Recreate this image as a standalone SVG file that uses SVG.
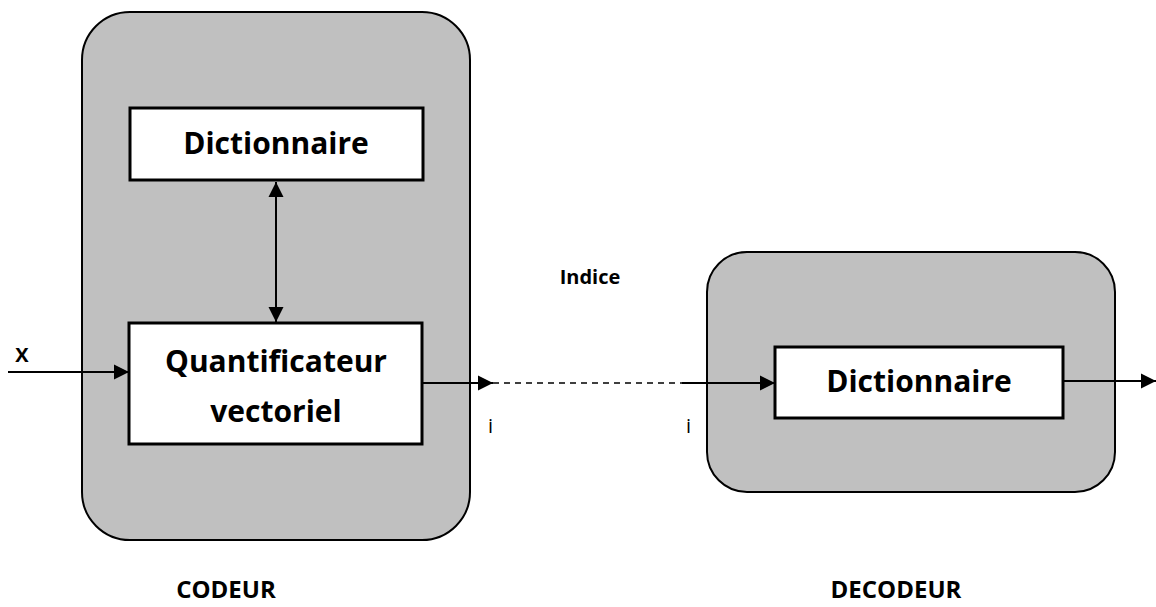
<svg xmlns="http://www.w3.org/2000/svg" width="1156" height="607" viewBox="0 0 1156 607">
<style>
.outer{fill:#c0c0c0;stroke:#000;stroke-width:2}
.box{fill:#fff;stroke:#000;stroke-width:3}
.big{font-family:"Open Sans","Liberation Sans",sans-serif;font-weight:bold;font-size:30px;text-anchor:middle}
.lbl{font-family:"Open Sans","Liberation Sans",sans-serif;font-weight:bold;font-size:24px;text-anchor:middle}
.sm{font-family:"Open Sans","Liberation Sans",sans-serif;font-size:20px}
.ln{stroke:#000;stroke-width:2;fill:none}
</style>
<defs>
<marker id="ah" viewBox="0 0 10 10" refX="10" refY="5" markerWidth="15" markerHeight="16" markerUnits="userSpaceOnUse" orient="auto-start-reverse">
<path d="M0,0 L10,5 L0,10 Z" fill="#000"/>
</marker>
</defs>
<g id="codeur">
<rect class="outer" x="82" y="12" width="388" height="528" rx="48" ry="48"/>
<text class="lbl" x="226" y="598">CODEUR</text>
</g>
<g id="decodeur">
<rect class="outer" x="707" y="252" width="408" height="240" rx="40" ry="40"/>
<text class="lbl" x="896" y="598">DECODEUR</text>
</g>
<g id="dict1">
<rect class="box" x="130" y="108" width="293" height="72"/>
<text class="big" x="276" y="154">Dictionnaire</text>
</g>
<g id="quant">
<rect class="box" x="129" y="323" width="293" height="121"/>
<text class="big" x="276" y="372">Quantificateur</text>
<text class="big" x="276" y="422">vectoriel</text>
</g>
<g id="dict2">
<rect class="box" x="775" y="347" width="288" height="71"/>
<text class="big" x="919" y="392">Dictionnaire</text>
</g>
<g id="connectors">
<line class="ln" x1="8" y1="372" x2="129" y2="372" marker-end="url(#ah)"/>
<line class="ln" x1="276" y1="182" x2="276" y2="322" marker-start="url(#ah)" marker-end="url(#ah)"/>
<line class="ln" x1="422" y1="383" x2="493" y2="383" marker-end="url(#ah)"/>
<line class="ln" x1="493" y1="383" x2="682" y2="383" stroke-dasharray="6,5" style="stroke-width:1.5"/>
<line class="ln" x1="682" y1="383" x2="775" y2="383" marker-end="url(#ah)"/>
<line class="ln" x1="1063" y1="381" x2="1156" y2="381" marker-end="url(#ah)"/>
</g>
<g id="labels">
<text class="lbl" x="22" y="362" style="font-size:20px">X</text>
<text class="lbl" x="590" y="284" style="font-size:20px">Indice</text>
<text class="sm" x="488" y="433">i</text>
<text class="sm" x="686" y="433">i</text>
</g>
</svg>
